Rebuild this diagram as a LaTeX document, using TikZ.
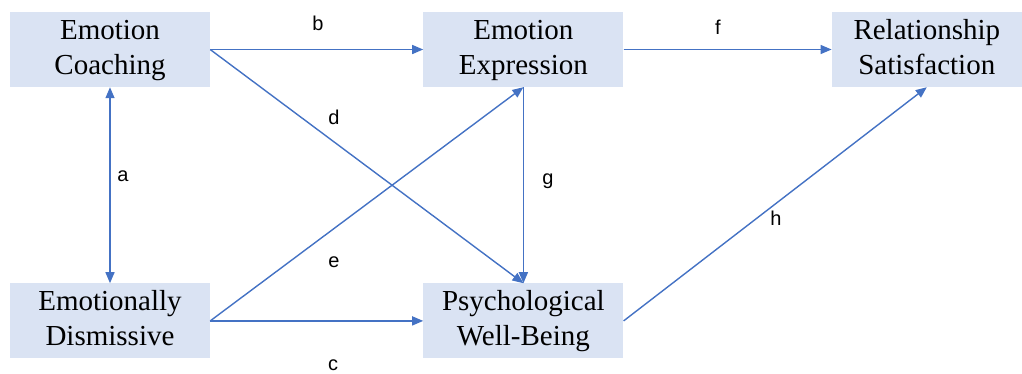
\documentclass[tikz,border=0pt]{standalone}
\usepackage{fontspec}
\setmainfont{Liberation Serif}
\newfontfamily\lblfont{Liberation Sans}
\usetikzlibrary{
  arrows.meta, % for the Triangle arrow tip
  positioning % for relative placement of the boxes
}
\definecolor{boxfill}{HTML}{DAE3F3}
\definecolor{linkblue}{HTML}{4472C4}
% two centred lines, set a little low in the box
\newcommand{\twolines}[2]{\raisebox{-4pt}{\begin{tabular}{@{}c@{}}#1\\#2\end{tabular}}}
\tikzset{
  construct/.style={ % style for each construct box
    rectangle,fill=boxfill, % filled light blue, no border
    inner sep=0pt,
    minimum width=200pt,minimum height=75pt,
    font=\fontsize{29}{35}\selectfont,
  },
  path/.style={ % style for the paths
    -{Triangle[length=11pt,width=9pt]},
    draw=linkblue,fill=linkblue,line width=1.4pt,
  },
  coef/.style={ % style for the path letters
    inner sep=0pt,
    font=\lblfont\fontsize{20}{20}\selectfont,
  },
}
\begin{document}
\begin{tikzpicture}[x=1pt,y=-1pt]
\useasboundingbox (0,0) rectangle (1022,373);
\node[construct] (coach) at (110,49.5) {\twolines{Emotion}{Coaching}};
\node[construct, right=213pt of coach] (expr) {\twolines{Emotion}{Expression}};
\node[construct, minimum width=190pt, right=208pt of expr] (sat) {\twolines{Relationship}{Satisfaction}};
\node[construct, below=196pt of coach] (dism) {\twolines{Emotionally}{Dismissive}};
\node[construct, right=213pt of dism] (well) {\twolines{Psychological}{Well-Being}};
\draw[path] (coach.east)--(expr.west);
\draw[path] (coach.east)--(well.north);
\draw[path,{Triangle[length=11pt,width=9pt]}-{Triangle[length=11pt,width=9pt]}] (coach.south)--(dism.north);
\draw[path] (dism.east)--(expr.south);
\draw[path] (dism.east)--(well.west);
\draw[path] (expr.south)--(well.north);
\draw[path] (expr.east)--(sat.west);
\draw[path] (well.east)--(sat.south);
\node[coef] (a) at (123,176) {a};
\node[coef] (b) at (318,23) {b};
\node[coef] (c) at (333,365) {c};
\node[coef] (d) at (334,117) {d};
\node[coef] (e) at (334,262) {e};
\node[coef] (f) at (718,27) {f};
\node[coef] (g) at (548,181) {g};
\node[coef] (h) at (776,218) {h};
\end{tikzpicture}
\end{document}
